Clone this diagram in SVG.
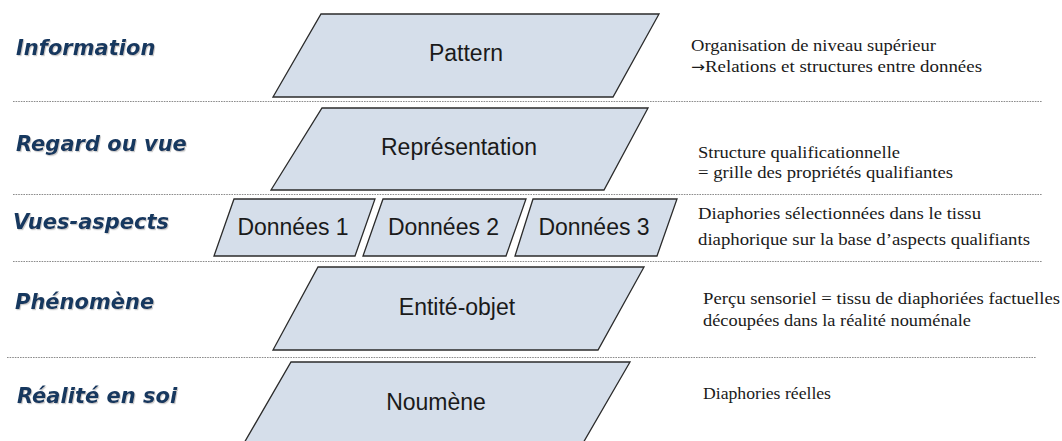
<svg xmlns="http://www.w3.org/2000/svg" width="1062" height="441" viewBox="0 0 1062 441">
<defs>
<filter id="sh" x="-5%" y="-20%" width="110%" height="150%">
<feDropShadow dx="1" dy="1.2" stdDeviation="0.7" flood-color="#9a9a9a" flood-opacity="0.5"/>
</filter>
<style>
.bg{fill:#ffffff}
.sep{stroke:#8c8c8c;stroke-width:1.1;stroke-dasharray:1.6 1;fill:none}
.shape{fill:#D5DEEA;stroke:#2b2b2b;stroke-width:1.3;stroke-linejoin:miter}
.nt{font-family:"Liberation Sans",Arial,sans-serif;font-size:23px;fill:#1a1a1a;text-anchor:middle}
.lvl{font-family:"DejaVu Sans",Verdana,sans-serif;font-size:21px;font-weight:bold;font-style:italic;fill:#17375E}
.desc{font-family:"Liberation Serif","Times New Roman",serif;font-size:17px;fill:#1a1a1a}
.arr{font-family:"DejaVu Sans",sans-serif;font-size:15px}
</style>
</defs>
<rect class="bg" x="0" y="0" width="1062" height="441"/>

<g id="separators">
<line class="sep" x1="13" y1="101.5" x2="1042" y2="101.5"/>
<line class="sep" x1="13" y1="194.5" x2="1042" y2="194.5"/>
<line class="sep" x1="13" y1="261.5" x2="1042" y2="261.5"/>
<line class="sep" x1="7" y1="357.5" x2="1036" y2="357.5"/>
</g>

<g id="levels" filter="url(#sh)">
<text class="lvl" x="16" y="55">Information</text>
<text class="lvl" x="16" y="151">Regard ou vue</text>
<text class="lvl" x="13" y="229">Vues-aspects</text>
<text class="lvl" x="15" y="309">Phénomène</text>
<text class="lvl" x="17" y="403">Réalité en soi</text>
</g>

<g id="node-pattern">
<polygon class="shape" points="321,14 659,14 613,97 273,97"/>
<text class="nt" x="466" y="61">Pattern</text>
</g>
<g id="node-representation">
<polygon class="shape" points="322,108 648,108 604,190 271,190"/>
<text class="nt" x="459" y="155">Représentation</text>
</g>
<g id="node-donnees1">
<polygon class="shape" points="234,199 375,199 355,256 214,256"/>
<text class="nt" x="293" y="235">Données 1</text>
</g>
<g id="node-donnees2">
<polygon class="shape" points="383,199 526,199 506,256 363,256"/>
<text class="nt" x="443.5" y="235">Données 2</text>
</g>
<g id="node-donnees3">
<polygon class="shape" points="533,199 677,199 657,256 515,256"/>
<text class="nt" x="594" y="235">Données 3</text>
</g>
<g id="node-entite">
<polygon class="shape" points="318,267 644,267 598,350 273,350"/>
<text class="nt" x="457" y="315">Entité-objet</text>
</g>
<g id="node-noumene">
<polygon class="shape" points="291,362 630,362 579,450 240,450"/>
<text class="nt" x="436" y="410">Noumène</text>
</g>

<g id="connectors"></g>

<g id="descriptions">
<text class="desc" x="691" y="51" textLength="245" lengthAdjust="spacingAndGlyphs">Organisation de niveau supérieur</text>
<text class="desc" x="691" y="72" textLength="291" lengthAdjust="spacingAndGlyphs"><tspan class="arr">→</tspan>Relations et structures entre données</text>
<text class="desc" x="698" y="158" textLength="202" lengthAdjust="spacingAndGlyphs">Structure qualificationnelle</text>
<text class="desc" x="698" y="178" textLength="255" lengthAdjust="spacingAndGlyphs">= grille des propriétés qualifiantes</text>
<text class="desc" x="698" y="219" textLength="283" lengthAdjust="spacingAndGlyphs">Diaphories sélectionnées dans le tissu</text>
<text class="desc" x="698" y="245" textLength="332" lengthAdjust="spacingAndGlyphs">diaphorique sur la base d’aspects qualifiants</text>
<text class="desc" x="703" y="304" textLength="357" lengthAdjust="spacingAndGlyphs">Perçu sensoriel = tissu de diaphoriées factuelles</text>
<text class="desc" x="703" y="326" textLength="268" lengthAdjust="spacingAndGlyphs">découpées dans la réalité nouménale</text>
<text class="desc" x="703" y="399" textLength="128" lengthAdjust="spacingAndGlyphs">Diaphories réelles</text>
</g>
</svg>
